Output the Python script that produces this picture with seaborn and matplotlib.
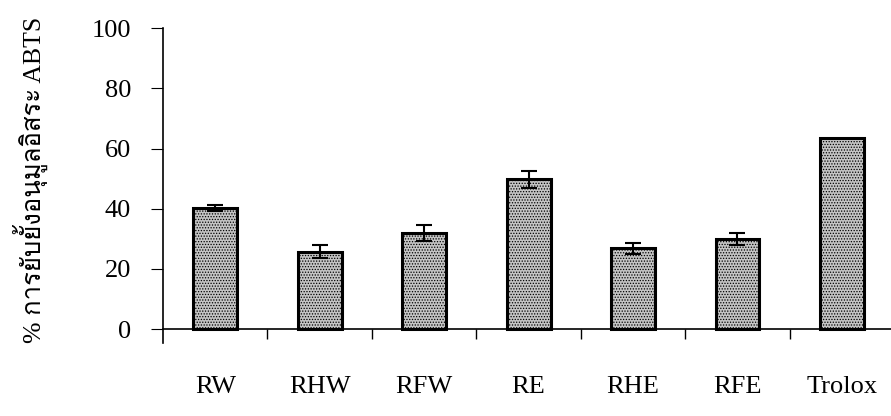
import numpy as np
import pandas as pd
import matplotlib
matplotlib.use('Agg')
import matplotlib.pyplot as plt
import seaborn as sns
from matplotlib import font_manager
from matplotlib.ft2font import FT2Font

# Data
samples = ['RW', 'RHW', 'RFW', 'RE', 'RHE', 'RFE', 'Trolox']
inhibition = [40.2, 25.7, 31.9, 49.8, 26.9, 29.9, 63.6]
sd = [1.0, 2.2, 2.7, 2.8, 1.8, 2.1, 0.0]
y_ticks = [0, 20, 40, 60, 80, 100]
y_label = '% การยับยั้งอนุมูลอิสระ ABTS'

data = pd.DataFrame({'Sample': samples, 'Inhibition': inhibition, 'SD': sd})

sns.set_theme(style='white')

# look for any installed family that has Thai glyphs
thai_fonts = []
for f in font_manager.fontManager.ttflist:
    try:
        if ord('ก') in FT2Font(f.fname).get_charmap() and f.name not in thai_fonts:
            thai_fonts.append(f.name)
    except Exception:
        pass

plt.rcParams['font.family'] = ['Liberation Serif'] + thai_fonts + ['DejaVu Sans']
plt.rcParams['hatch.linewidth'] = 0.6

fig = plt.figure(figsize=(8.91, 4.16), dpi=100)
ax = fig.add_axes([0.183, 0.1755, 0.817, 0.757])

sns.barplot(data=data, x='Sample', y='Inhibition', color='#c4c4c4', edgecolor='black',
            linewidth=2.2, width=0.42, hatch='......', errorbar=None, ax=ax)

# error bars (Trolox has none)
err = data[data['SD'] > 0]
ax.errorbar(x=err.index, y=err['Inhibition'], yerr=err['SD'], fmt='none',
            ecolor='black', elinewidth=1.5, capsize=6, capthick=1.5)

ax.set_ylim(-4.6, 100)
ax.set_xlim(-0.5, 6.47)
ax.set_yticks(y_ticks)
ax.spines['bottom'].set_position(('data', 0))
ax.spines[['top', 'right']].set_visible(False)
ax.spines[['left', 'bottom']].set_color('black')
ax.spines[['left', 'bottom']].set_linewidth(1.2)

ax.tick_params(axis='y', left=True, direction='out', length=9, width=0.8, pad=14,
               labelsize=19, colors='black')
ax.set_xticks(np.arange(0.5, len(samples) - 1, 1), minor=True)
ax.tick_params(axis='x', which='major', length=0, pad=34, labelsize=19, colors='black')
ax.tick_params(axis='x', which='minor', bottom=True, direction='out', length=7, width=1, colors='black')

ax.set_xlabel('')
ax.set_ylabel(y_label, fontsize=18.5, color='black')
ax.yaxis.set_label_coords(-0.158, 0.517)

fig.savefig('out.png', dpi=100)
